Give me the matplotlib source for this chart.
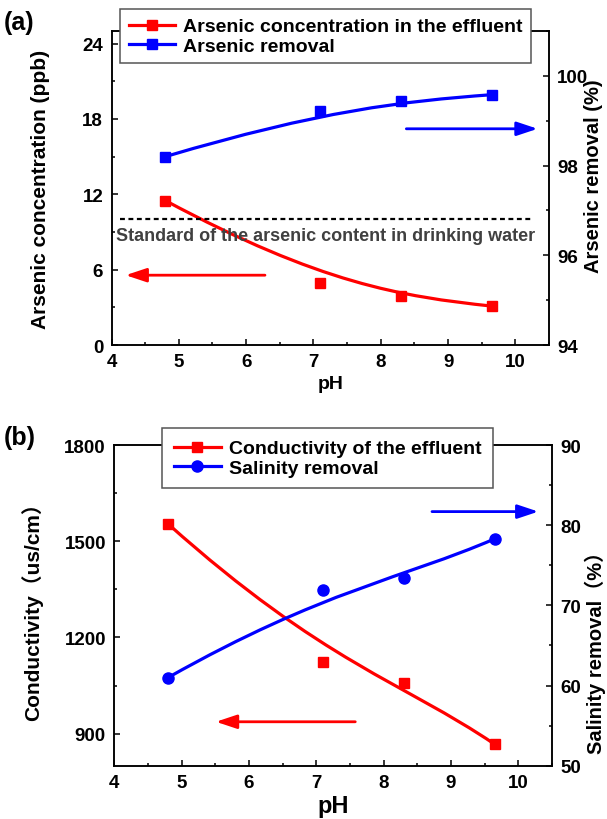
import numpy as np
import matplotlib
matplotlib.use("Agg")
from matplotlib import pyplot as plt
from matplotlib.path import Path
from matplotlib.patches import PathPatch
from matplotlib.lines import Line2D
from matplotlib.ticker import MultipleLocator

plt.rcParams['font.family'] = ['Liberation Sans', 'Noto Sans CJK SC']
plt.rcParams['font.weight'] = 'bold'
plt.rcParams['axes.labelweight'] = 'bold'

# data
ph = [4.8, 7.1, 8.3, 9.65]
as_conc = [11.5, 4.9, 3.87, 3.1]          # ppb
as_removal = [98.2, 99.22, 99.43, 99.58]  # %
conduct = [1554, 1122, 1059, 867]         # us/cm
sal_removal = [61.0, 71.9, 73.4, 78.3]    # %
standard = 10

red = '#ff0000'
blue = '#0000ff'


def bspline(ax, x, y, c):
    # origin style B-spline connection through the 4 points
    verts = np.column_stack([x, y])
    codes = [Path.MOVETO, Path.CURVE4, Path.CURVE4, Path.CURVE4]
    ax.add_patch(PathPatch(Path(verts, codes), fill=False, edgecolor=c, lw=2.3))


def style(ax, ax2):
    for a in (ax, ax2):
        for s in a.spines.values():
            s.set_linewidth(1.1)
        a.tick_params(which='major', direction='in', length=4, width=1.1, labelsize=13.5, pad=6)
        a.tick_params(which='minor', direction='in', length=2.2, width=1.1)
    ax.xaxis.set_major_locator(MultipleLocator(1))
    ax.xaxis.set_minor_locator(MultipleLocator(0.5))
    ax.set_xlim(4, 10.5)


def arrow(ax, x0, x1, y, c):
    ax.annotate('', xy=(x1, y), xytext=(x0, y),
                arrowprops=dict(arrowstyle='-|>,head_length=0.9,head_width=0.3', color=c, lw=2,
                                mutation_scale=14, shrinkA=0, shrinkB=0))


fig = plt.figure(figsize=(6.07, 8.2), dpi=100)

# ---- (a)
ax = fig.add_axes([0.1837, 0.578, 0.7208, 0.383])
ax2 = ax.twinx()
bspline(ax, ph, as_conc, red)
ax.plot(ph, as_conc, 's', color=red, ms=7.5)
bspline(ax2, ph, as_removal, blue)
ax2.plot(ph, as_removal, 's', color=blue, ms=7.5)
ax.axhline(standard, xmin=0.02, xmax=0.96, color='black', ls=(0, (2.2, 1.6)), lw=1.6)
ax.text(4.06, 8.75, 'Standard of the arsenic content in drinking water', color='#404040',
        fontsize=13, fontweight='bold', va='center', ha='left')
ax.set_ylim(0, 25)
ax.yaxis.set_major_locator(MultipleLocator(6))
ax.yaxis.set_minor_locator(MultipleLocator(3))
ax2.set_ylim(94, 101)
ax2.yaxis.set_major_locator(MultipleLocator(2))
ax2.yaxis.set_minor_locator(MultipleLocator(1))
style(ax, ax2)
arrow(ax, 6.28, 4.21, 5.56, red)
arrow(ax2, 8.38, 10.33, 98.82, blue)
ax.set_xlabel('pH', fontsize=14, labelpad=3)
ax.set_ylabel('Arsenic concentration (ppb)', fontsize=15)
ax.yaxis.set_label_coords(-0.14, 0.5)
ax2.set_ylabel('Arsenic removal (%)', fontsize=14.5, rotation=90)
ax2.yaxis.set_label_coords(1.08, 0.54)
h = [Line2D([], [], color=red, marker='s', lw=2.3, ms=7.5),
     Line2D([], [], color=blue, marker='s', lw=2.3, ms=7.5)]
leg = ax2.legend(h, ['Arsenic concentration in the effluent', 'Arsenic removal'],
                 loc='upper left', bbox_to_anchor=(0.019, 1.07), borderaxespad=0,
                 fancybox=False, edgecolor='#555555', framealpha=1,
                 handlelength=2.4, handletextpad=0.4, labelspacing=0.08, borderpad=0.45,
                 prop={'weight': 'bold', 'size': 14})
leg.get_frame().set_linewidth(1.1)
fig.text(0.006, 0.972, '(a)', fontsize=18, fontweight='bold', va='center')

# ---- (b)
bx = fig.add_axes([0.1883, 0.065, 0.7208, 0.391])
bx2 = bx.twinx()
bspline(bx, ph, conduct, red)
bx.plot(ph, conduct, 's', color=red, ms=7.5)
bspline(bx2, ph, sal_removal, blue)
bx2.plot(ph, sal_removal, 'o', color=blue, ms=8)
bx.set_ylim(800, 1800)
bx.yaxis.set_major_locator(MultipleLocator(300))
bx.yaxis.set_minor_locator(MultipleLocator(150))
bx.set_yticks([900, 1200, 1500, 1800])
bx2.set_ylim(50, 90)
bx2.yaxis.set_major_locator(MultipleLocator(10))
bx2.yaxis.set_minor_locator(MultipleLocator(5))
style(bx, bx2)
arrow(bx, 7.58, 5.51, 937, red)
arrow(bx2, 8.72, 10.3, 81.7, blue)
bx.set_xlabel('pH', fontsize=17, labelpad=2)
bx.set_ylabel('Conductivity（us/cm）', fontsize=15)
bx.yaxis.set_label_coords(-0.163, 0.5)
bx2.set_ylabel('Salinity removal（%）', fontsize=14.5, rotation=90)
bx2.yaxis.set_label_coords(1.074, 0.37)
h = [Line2D([], [], color=red, marker='s', lw=2.3, ms=7.5),
     Line2D([], [], color=blue, marker='o', lw=2.3, ms=8)]
leg = bx2.legend(h, ['Conductivity of the effluent', 'Salinity removal'],
                 loc='upper left', bbox_to_anchor=(0.110, 1.053), borderaxespad=0,
                 fancybox=False, edgecolor='#555555', framealpha=1,
                 handlelength=2.4, handletextpad=0.4, labelspacing=0.08, borderpad=0.6,
                 prop={'weight': 'bold', 'size': 14})
leg.get_frame().set_linewidth(1.1)
fig.text(0.006, 0.466, '(b)', fontsize=18, fontweight='bold', va='center')

fig.savefig('out.png', dpi=100)
